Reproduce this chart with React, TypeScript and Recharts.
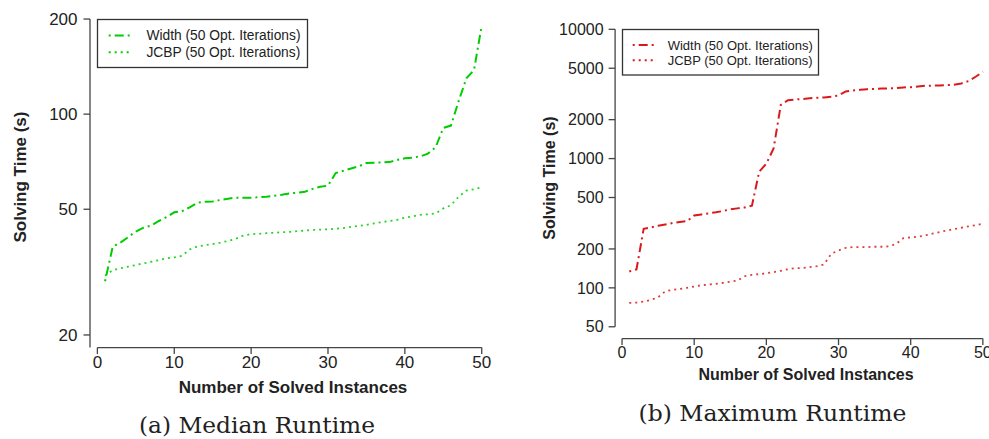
import React from 'react';
import { LineChart, Line, XAxis, YAxis, ReferenceLine, Legend } from 'recharts';

// x positions: number of solved instances
const instances = [
  1, 2, 3, 4, 5, 6, 7, 8, 9, 10, 11, 12, 13, 14, 15, 16, 17, 18, 19, 20, 21, 22, 23, 24, 25,
  26, 27, 28, 29, 30, 31, 32, 33, 34, 35, 36, 37, 38, 39, 40, 41, 42, 43, 44, 45, 46, 47, 48, 49, 50,
];

// (a) median runtime in seconds
const widthMedian = [
  29.6, 38.1, 39.2, 40.8, 42.5, 43.7, 44.4, 45.9, 47.2, 48.9, 49.3, 50.7, 52.4, 52.8, 52.9, 53.5,
  54.0, 54.4, 54.4, 54.4, 54.6, 54.8, 55.2, 55.6, 56.1, 56.4, 56.8, 58.0, 58.9, 59.4, 65.1, 66.2,
  67.3, 68.4, 70.0, 70.2, 70.3, 70.5, 71.6, 72.5, 72.8, 73.5, 75.0, 78.5, 90.5, 92.0, 110.0, 129.8,
  138.0, 191.0,
];
const jcbpMedian = [
  30.8, 32.1, 32.5, 32.9, 33.3, 33.7, 34.1, 34.5, 35.0, 35.2, 35.6, 37.3, 38.1, 38.5, 38.8, 39.2,
  39.7, 40.3, 41.3, 41.7, 41.8, 42.0, 42.1, 42.3, 42.4, 42.6, 42.8, 43.0, 43.1, 43.2, 43.4, 43.6,
  44.0, 44.3, 44.6, 45.1, 45.5, 45.9, 46.3, 47.0, 47.5, 48.0, 48.2, 48.5, 50.3, 51.5, 54.8, 57.3,
  57.8, 58.7,
];

// (b) maximum runtime in seconds
const widthMax = [
  134, 139, 286, 293, 302, 309, 317, 323, 328, 363, 370, 377, 384, 393, 405, 412, 419, 432, 790,
  914, 1196, 2600, 2830, 2865, 2890, 2930, 2950, 2970, 3005, 3077, 3305, 3365, 3404, 3445, 3460,
  3490, 3490, 3510, 3550, 3570, 3615, 3655, 3670, 3670, 3700, 3720, 3813, 3975, 4295, 4693,
];
const jcbpMax = [
  76.5, 77.0, 78.3, 80.7, 84.6, 94.1, 96.4, 98.2, 100, 102.4, 104.8, 106.1, 107.4, 109.4, 111.4,
  114, 123, 126.2, 127.6, 129.8, 132.2, 135.5, 139.4, 141.9, 142.6, 144.5, 147, 151.6, 183.6, 194.5,
  204, 206.5, 206.5, 206.5, 208, 208, 209.5, 219, 242.6, 245.5, 248.5, 254.6, 262.4, 270, 278,
  284.5, 291.7, 298.6, 305.8, 313.3,
];

const xTicks = [0, 10, 20, 30, 40, 50];
const medianTicks = [20, 50, 100, 200];
const maxTicks = [50, 100, 200, 500, 1000, 2000, 5000, 10000];
const seriesNames = ['Width (50 Opt. Iterations)', 'JCBP (50 Opt. Iterations)'];

const GREEN = '#00CD00';
const RED = '#DA1A1A';
const AXIS = '#444';
const TEXT = '#222';
const SANS = '"Liberation Sans", Arial, sans-serif';
const SERIF = '"DejaVu Serif", serif';

const DOTDASH = '2 4 9 4';
const DOTTED = '2 4';

const medianRows = instances.map((n, i) => ({ n, width: widthMedian[i], jcbp: jcbpMedian[i] }));
const maxRows = instances.map((n, i) => ({ n, width: widthMax[i], jcbp: jcbpMax[i] }));

type LegendBoxProps = {
  color: string;
  w: number;
  h: number;
  fontSize: number;
  rows: number[];
  lineX: [number, number];
  textX: number;
};

const LegendBox = ({ color, w, h, fontSize, rows, lineX, textX }: LegendBoxProps) => (
  <svg width={w} height={h} style={{ display: 'block', overflow: 'visible' }}>
    <rect x={0.5} y={0.5} width={w - 1} height={h - 1} fill="#fff" stroke="#333" strokeWidth={1.3} />
    {seriesNames.map((name, i) => (
      <g key={name}>
        <line
          x1={lineX[0]}
          x2={lineX[1]}
          y1={rows[i]}
          y2={rows[i]}
          stroke={color}
          strokeWidth={2}
          strokeDasharray={i === 0 ? DOTDASH : DOTTED}
        />
        <text x={textX} y={rows[i]} dy="0.35em" fontSize={fontSize} fontFamily={SANS} fill={TEXT}>
          {name}
        </text>
      </g>
    ))}
  </svg>
);

type PanelProps = {
  rows: { n: number; width: number; jcbp: number }[];
  color: string;
  left: number;
  width: number;
  plot: { left: number; right: number; top: number; bottom: number };
  xDomain: [number, number];
  yDomain: [number, number];
  yTicks: number[];
  yAxisFrom: number;
  fontSize: number;
  xTickMargin: number;
  yTickMargin: number;
  legend: LegendBoxProps & { left: number; top: number };
};

const HEIGHT = 439;
const XAXIS_H = 30;

const Panel = (p: PanelProps) => {
  const tickStyle = { fontSize: p.fontSize, fill: TEXT, fontFamily: SANS };
  const tickLine = { stroke: AXIS, strokeWidth: 1.3 };
  const { left: lgLeft, top: lgTop, ...lg } = p.legend;
  return (
    <div style={{ position: 'absolute', left: p.left, top: 0 }}>
      <LineChart
        width={p.width}
        height={HEIGHT}
        data={p.rows}
        margin={{
          top: p.plot.top,
          right: p.width - p.plot.right,
          bottom: HEIGHT - p.plot.bottom - XAXIS_H,
          left: 0,
        }}
      >
        <XAxis
          dataKey="n"
          type="number"
          domain={p.xDomain}
          allowDataOverflow
          ticks={xTicks}
          interval={0}
          axisLine={false}
          tickLine={tickLine}
          tickSize={6.5}
          tickMargin={p.xTickMargin}
          tick={tickStyle}
          height={XAXIS_H}
        />
        <YAxis
          type="number"
          scale="log"
          domain={p.yDomain}
          allowDataOverflow
          ticks={p.yTicks}
          interval={0}
          axisLine={false}
          tickLine={tickLine}
          tickSize={6.5}
          tickMargin={p.yTickMargin}
          tick={tickStyle}
          width={p.plot.left}
        />
        <ReferenceLine
          segment={[
            { x: 0, y: p.yDomain[0] },
            { x: 50, y: p.yDomain[0] },
          ]}
          stroke={AXIS}
          strokeWidth={1.3}
          ifOverflow="visible"
        />
        <ReferenceLine
          segment={[
            { x: p.xDomain[0], y: p.yAxisFrom },
            { x: p.xDomain[0], y: p.yTicks[p.yTicks.length - 1] },
          ]}
          stroke={AXIS}
          strokeWidth={1.3}
          ifOverflow="visible"
        />
        <Legend
          layout="vertical"
          align="center"
          verticalAlign="middle"
          wrapperStyle={{ left: lgLeft, top: lgTop, width: lg.w, height: lg.h }}
          content={() => <LegendBox {...lg} />}
        />
        <Line
          dataKey="width"
          name={seriesNames[0]}
          stroke={p.color}
          strokeWidth={2}
          strokeDasharray={DOTDASH}
          dot={false}
          activeDot={false}
          isAnimationActive={false}
        />
        <Line
          dataKey="jcbp"
          name={seriesNames[1]}
          stroke={p.color}
          strokeWidth={1.8}
          strokeDasharray={DOTTED}
          strokeOpacity={0.85}
          dot={false}
          activeDot={false}
          isAnimationActive={false}
        />
      </LineChart>
    </div>
  );
};

export default function App() {
  return (
    <div
      style={{
        position: 'fixed',
        left: 0,
        top: 0,
        width: 989,
        height: HEIGHT,
        overflow: 'hidden',
        background: '#fff',
      }}
    >
      <Panel
        rows={medianRows}
        color={GREEN}
        left={0}
        width={520}
        plot={{ left: 90, right: 496.8, top: 6.4, bottom: 347.6 }}
        xDomain={[-0.96, 51.96]}
        yDomain={[18.24, 219.3]}
        yTicks={medianTicks}
        yAxisFrom={18.24}
        fontSize={17}
        xTickMargin={1.5}
        yTickMargin={6}
        legend={{
          left: 97.3,
          top: 18.5,
          w: 211,
          h: 49,
          color: GREEN,
          fontSize: 13.8,
          rows: [16.5, 33.2],
          lineX: [11.7, 33.7],
          textX: 49.4,
        }}
      />
      <Panel
        rows={maxRows}
        color={RED}
        left={495}
        width={520}
        plot={{ left: 120.1, right: 502, top: 17.4, bottom: 338.6 }}
        xDomain={[-0.96, 51.96]}
        yDomain={[40.5, 12365]}
        yTicks={maxTicks}
        yAxisFrom={50}
        fontSize={16}
        xTickMargin={1.2}
        yTickMargin={5}
        legend={{
          left: 127,
          top: 29,
          w: 197,
          h: 46.5,
          color: RED,
          fontSize: 13,
          rows: [16, 31.3],
          lineX: [10.7, 32.3],
          textX: 45.7,
        }}
      />
      <svg
        width={989}
        height={HEIGHT}
        style={{ position: 'absolute', left: 0, top: 0, pointerEvents: 'none' }}
      >
        <text
          x={20}
          y={177}
          dy="0.35em"
          transform="rotate(-90 20 177)"
          textAnchor="middle"
          fontFamily={SANS}
          fontWeight="bold"
          fontSize={17}
          fill={TEXT}
        >
          Solving Time (s)
        </text>
        <text x={293} y={393} textAnchor="middle" fontFamily={SANS} fontWeight="bold" fontSize={17} fill={TEXT}>
          Number of Solved Instances
        </text>
        <text x={257} y={432.5} textAnchor="middle" fontFamily={SERIF} fontSize={23} fill={TEXT} textLength={236} lengthAdjust="spacingAndGlyphs">
          (a) Median Runtime
        </text>
        <text
          x={549}
          y={178}
          dy="0.35em"
          transform="rotate(-90 549 178)"
          textAnchor="middle"
          fontFamily={SANS}
          fontWeight="bold"
          fontSize={16}
          fill={TEXT}
        >
          Solving Time (s)
        </text>
        <text x={806} y={380} textAnchor="middle" fontFamily={SANS} fontWeight="bold" fontSize={16} fill={TEXT}>
          Number of Solved Instances
        </text>
        <text x={772.5} y={421} textAnchor="middle" fontFamily={SERIF} fontSize={23} fill={TEXT} textLength={268} lengthAdjust="spacingAndGlyphs">
          (b) Maximum Runtime
        </text>
      </svg>
    </div>
  );
}
